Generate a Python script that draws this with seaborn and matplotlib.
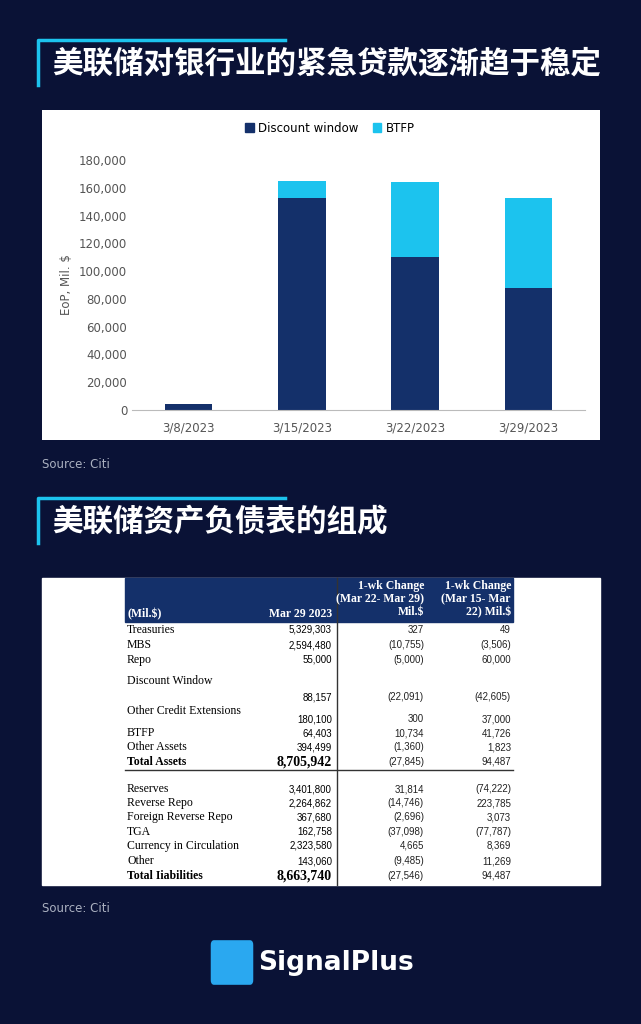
import matplotlib
matplotlib.use('Agg')
import matplotlib.pyplot as plt
import matplotlib.patches as mpatches
import pandas as pd
import seaborn as sns

W, H = 641, 1024
BG = '#0a1236'
NAVY = '#14306a'
CYAN = '#1cc3ee'

# ── Datos ─────────────────────────────────────────────────────────────────────
dates = ['3/8/2023', '3/15/2023', '3/22/2023', '3/29/2023']
discount = [4500, 152900, 110200, 88157]
btfp = [0, 11900, 53700, 64403]

rows = ['Treasuries', 'MBS', 'Repo', 'Discount Window', 'Other Credit Extensions',
        'BTFP', 'Other Assets', 'Total Assets',
        'Reserves', 'Reverse Repo', 'Foreign Reverse Repo', 'TGA',
        'Currency in Circulation', 'Other', 'Total Iiabilities']
col_mar29 = ['5,329,303', '2,594,480', '55,000', '88,157', '180,100', '64,403', '394,499', '8,705,942',
             '3,401,800', '2,264,862', '367,680', '162,758', '2,323,580', '143,060', '8,663,740']
col_chg1 = ['327', '(10,755)', '(5,000)', '(22,091)', '300', '10,734', '(1,360)', '(27,845)',
            '31,814', '(14,746)', '(2,696)', '(37,098)', '4,665', '(9,485)', '(27,546)']
col_chg2 = ['49', '(3,506)', '60,000', '(42,605)', '37,000', '41,726', '1,823', '94,487',
            '(74,222)', '223,785', '3,073', '(77,787)', '8,369', '11,269', '94,487']
# y (px) de etiqueta y de valores
label_y = [630, 645, 660, 681, 711, 733, 747, 762, 789, 803, 817, 832, 846, 861, 876]
value_y = [630, 645, 660, 697, 719, 733, 747, 762, 789, 803, 817, 832, 846, 861, 876]

plt.rcParams['font.family'] = ['DejaVu Sans', 'Noto Sans CJK SC', 'Noto Sans CJK JP']
fig = plt.figure(figsize=(W / 100, H / 100), dpi=100, facecolor=BG)

def fx(x): return x / W
def fy(y): return 1 - y / H

def rect(x0, y0, x1, y1, **kw):
    fig.patches.append(mpatches.Rectangle((fx(x0), fy(y1)), fx(x1) - fx(x0), fy(y0) - fy(y1),
                                          transform=fig.transFigure, **kw))

def line(xs, ys, **kw):
    fig.add_artist(plt.Line2D([fx(x) for x in xs], [fy(y) for y in ys], transform=fig.transFigure, **kw))

CJK = ['Noto Sans CJK SC', 'Noto Sans CJK JP', 'Noto Sans CJK TC']

# ── Títulos ───────────────────────────────────────────────────────────────────
for ytop, title in [(40, '美联储对银行业的紧急贷款逐渐趋于稳定'), (498, '美联储资产负债表的组成')]:
    line([38, 38, 285], [ytop + 45, ytop, ytop], color=CYAN, lw=2.5)
    fig.text(fx(52), fy(ytop + 24), title, color='white', fontsize=22, fontweight='bold',
             family=CJK, va='center')

# ── Gráfico ───────────────────────────────────────────────────────────────────
panel = fig.add_axes([fx(42), fy(440), fx(600) - fx(42), fy(110) - fy(440)], zorder=0)
panel.set_facecolor('white')
panel.set_xticks([]); panel.set_yticks([])
for s in panel.spines.values():
    s.set_visible(False)

ax = fig.add_axes([fx(132), fy(410), fx(585) - fx(132), fy(160) - fy(410)], zorder=2)
ax.set_facecolor('white')
df = pd.DataFrame({'date': dates, 'Discount window': discount, 'BTFP': btfp})
df['total'] = df['Discount window'] + df['BTFP']
sns.barplot(data=df, x='date', y='total', color=CYAN, width=0.42, ax=ax, saturation=1)
sns.barplot(data=df, x='date', y='Discount window', color=NAVY, width=0.42, ax=ax, saturation=1)
ax.set_ylim(0, 180000)
ax.set_yticks(range(0, 180001, 20000))
ax.set_yticklabels([f'{v:,}' for v in range(0, 180001, 20000)], fontsize=8.5, color='#555555')
ax.tick_params(axis='x', labelsize=8.5, colors='#555555', length=0, pad=8)
ax.tick_params(axis='y', length=0)
ax.set_xlabel('')
ax.set_ylabel('EoP, Mil. $', fontsize=8.5, color='#555555')
for s in ['top', 'right', 'left']:
    ax.spines[s].set_visible(False)
ax.spines['bottom'].set_color('#bbbbbb')
handles = [mpatches.Patch(color=NAVY, label='Discount window'), mpatches.Patch(color=CYAN, label='BTFP')]
leg = fig.legend(handles=handles, loc='center', bbox_to_anchor=(fx(330), fy(128)), ncol=2, frameon=False,
                 fontsize=8.5, handlelength=0.7, handleheight=0.7, columnspacing=1.2, handletextpad=0.4)
leg.set_zorder(5)

fig.text(fx(42), fy(465), 'Source: Citi', color='#aab0c0', fontsize=8.5, va='center')
fig.text(fx(42), fy(909), 'Source: Citi', color='#aab0c0', fontsize=8.5, va='center')

# ── Tabla ─────────────────────────────────────────────────────────────────────
rect(42, 578, 600, 885, color='white', zorder=0)
rect(125, 578, 513, 622, color=NAVY, zorder=1)
SER = 'Liberation Serif'
hk = dict(color='white', fontsize=8.5, family=SER, fontweight='bold', zorder=2)
fig.text(fx(128), fy(614), '(Mil.$)', va='center', **hk)
fig.text(fx(332), fy(614), 'Mar 29 2023', ha='right', va='center', **hk)
fig.text(fx(424), fy(599), '1-wk Change\n(Mar 22- Mar 29)\nMil.$', ha='right', va='center',
         linespacing=1.15, **hk)
fig.text(fx(511), fy(599), '1-wk Change\n(Mar 15- Mar\n22) Mil.$', ha='right', va='center',
         linespacing=1.15, **hk)
line([337, 337], [578, 885], color='#333333', lw=1)
line([125, 513], [770, 770], color='#333333', lw=1)
for i, name in enumerate(rows):
    bold = name.startswith('Total')
    fig.text(fx(127), fy(label_y[i]), name, family=SER, fontsize=8.5, va='center', color='black',
             fontweight='bold' if bold else 'normal')
    fig.text(fx(332), fy(value_y[i]), col_mar29[i], family=SER if bold else 'Liberation Sans',
             fontsize=10 if bold else 7, fontweight='bold' if bold else 'normal',
             ha='right', va='center', color='black')
    fig.text(fx(424), fy(value_y[i]), col_chg1[i], fontsize=7, ha='right', va='center', color='#222222',
             family='Liberation Sans')
    fig.text(fx(511), fy(value_y[i]), col_chg2[i], fontsize=7, ha='right', va='center', color='#222222',
             family='Liberation Sans')

# ── Logo ──────────────────────────────────────────────────────────────────────
fig.patches.append(mpatches.FancyBboxPatch((fx(214), fy(980)), fx(36), fy(945) - fy(980),
                                           boxstyle='round,pad=0.004', transform=fig.transFigure,
                                           color='#2aa8f0'))
fig.text(fx(258), fy(963), 'SignalPlus', color='white', fontsize=19, fontweight='bold', va='center')

fig.savefig('out.png', dpi=100, facecolor=BG)
